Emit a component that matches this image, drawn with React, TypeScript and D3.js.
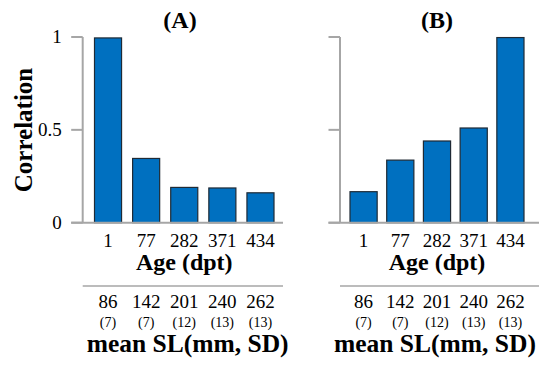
import { scaleBand, scaleLinear } from "d3";

// age groups (days post treatment) and the fish size table under them
const ages = ["1", "77", "282", "371", "434"];
const meanSL = ["86", "142", "201", "240", "262"];
const sdSL = ["(7)", "(7)", "(12)", "(13)", "(13)"];
const yTicks = [0, 0.5, 1];
const yTickLabels = ["0", "0.5", "1"];

// correlation per age group, panel A and panel B
const corrA = [0.995, 0.346, 0.19, 0.187, 0.161];
const corrB = [0.167, 0.337, 0.44, 0.51, 0.997];

const WIDTH = 539;
const HEIGHT = 373;
const Y0 = 222.7;
const Y1 = 37;

const FILL = "#0070c0";
const AXIS = "#a6a6a6";
const SERIF = '"Liberation Serif", "Times New Roman", serif';
const font = { fontFamily: SERIF };

type PanelProps = {
  title: string;
  values: number[];
  axisX: number;
  barRange: [number, number];
  padding: number;
  lineEnd: number;
  titleX: number;
  meanX: number;
  showYLabels: boolean;
};

const Panel = ({ title, values, axisX, barRange, padding, lineEnd, titleX, meanX, showYLabels }: PanelProps) => {
  const x = scaleBand<string>().domain(ages).range(barRange).paddingInner(padding).paddingOuter(0);
  const y = scaleLinear().domain([0, 1]).range([Y0, Y1]);
  const tickLeft = axisX - 11.5;
  const bw = x.bandwidth();
  const center = (k: string) => (x(k) ?? 0) + bw / 2;

  return (
    <g>
      <text x={titleX} y={28} textAnchor="middle" fontSize={24} fontWeight="bold" style={font}>
        {title}
      </text>
      {values.map((v, i) => (
        <rect
          key={ages[i]}
          x={x(ages[i])}
          y={y(v)}
          width={bw}
          height={Y0 - y(v)}
          fill={FILL}
          stroke="#1f2a35"
          strokeWidth={1.2}
        />
      ))}
      <line x1={axisX} x2={axisX} y1={y(1)} y2={Y0} stroke={AXIS} strokeWidth={2} />
      {yTicks.map((t, i) => (
        <g key={t}>
          <line x1={tickLeft} x2={axisX} y1={y(t)} y2={y(t)} stroke={AXIS} strokeWidth={2} />
          {showYLabels ? (
            <text x={tickLeft - 9.5} y={y(t)} dy="0.32em" textAnchor="end" fontSize={19} style={font}>
              {yTickLabels[i]}
            </text>
          ) : null}
        </g>
      ))}
      <line x1={tickLeft} x2={lineEnd} y1={Y0} y2={Y0} stroke={AXIS} strokeWidth={2} />
      {ages.map((a) => (
        <text key={a} x={center(a)} y={247} textAnchor="middle" fontSize={19} style={font}>
          {a}
        </text>
      ))}
      <text
        x={(barRange[0] + barRange[1]) / 2}
        y={270}
        textAnchor="middle"
        fontSize={24}
        fontWeight="bold"
        style={font}
      >
        Age (dpt)
      </text>
      <line x1={axisX} x2={lineEnd} y1={286} y2={286} stroke={AXIS} strokeWidth={1.5} />
      {meanSL.map((m, i) => (
        <text key={m} x={center(ages[i])} y={308} textAnchor="middle" fontSize={19} style={font}>
          {m}
        </text>
      ))}
      {sdSL.map((s, i) => (
        <text key={ages[i]} x={center(ages[i])} y={326.5} textAnchor="middle" fontSize={14} style={font}>
          {s}
        </text>
      ))}
      <text x={meanX} y={351.5} fontSize={25.5} fontWeight="bold" style={font}>
        mean SL(mm, SD)
      </text>
    </g>
  );
};

export default function App() {
  return (
    <div style={{ position: "fixed", left: 0, top: 0, width: WIDTH, height: HEIGHT, overflow: "hidden", background: "#fff" }}>
      <svg width={WIDTH} height={HEIGHT} fill="#000" style={{ display: "block" }}>
        <text
          transform={`translate(32,130) rotate(-90)`}
          textAnchor="middle"
          fontSize={25}
          fontWeight="bold"
          style={font}
        >
          Correlation
        </text>
        <Panel
          title="(A)"
          values={corrA}
          axisX={82.7}
          barRange={[94.5, 274]}
          padding={0.29}
          lineEnd={283}
          titleX={180}
          meanX={86.7}
          showYLabels
        />
        <Panel
          title="(B)"
          values={corrB}
          axisX={340}
          barRange={[350, 524]}
          padding={0.26}
          lineEnd={539}
          titleX={437}
          meanX={334}
          showYLabels={false}
        />
      </svg>
    </div>
  );
}
